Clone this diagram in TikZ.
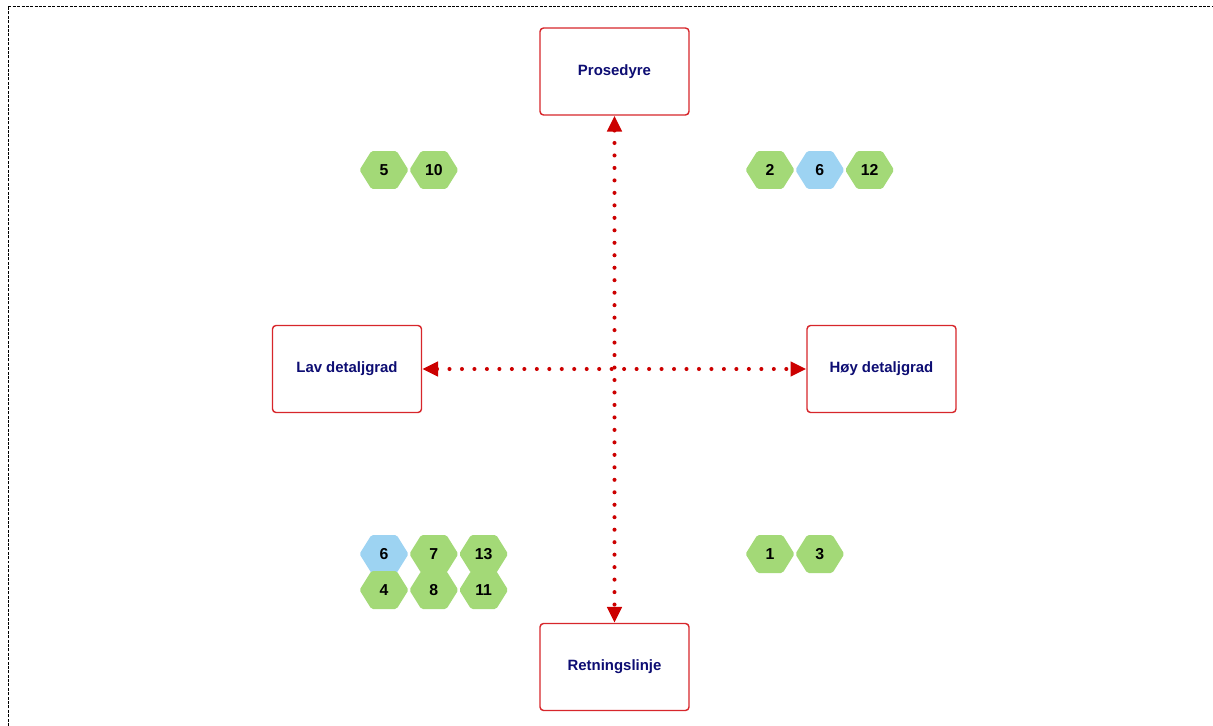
\documentclass[tikz,border=0pt]{standalone}
\usepackage{fontspec}
\setmainfont{Liberation Sans}
\usepackage{xcolor}
\definecolor{FrameRed}{HTML}{D7262B}
\definecolor{LinkRed}{HTML}{CC0000}
\definecolor{LabelNavy}{HTML}{0D0D73}
\definecolor{HexGreen}{HTML}{A3D977}
\definecolor{HexBlue}{HTML}{9DD3F2}
\usetikzlibrary{arrows.meta,positioning,shapes.symbols}

\begin{document}
\begin{tikzpicture}[x=0.02cm,y=-0.02cm,
    box/.style={draw=FrameRed,line width=0.8pt,rounded corners=2pt,fill=white,minimum width=2.98cm,minimum height=1.74cm,font=\fontsize{8.5}{10}\selectfont\bfseries,text=LabelNavy},
    hex/.style={signal,signal to=east and west,signal pointer angle=116,fill=HexGreen,rounded corners=1pt,minimum width=0.98cm,minimum height=0.76cm,inner sep=0pt,font=\fontsize{9}{10}\selectfont\bfseries},
    hexblue/.style={hex,fill=HexBlue},
    link/.style={LinkRed,line width=2.3pt,line cap=round,dash pattern=on 0pt off 7.1pt,{Triangle[length=9pt,width=8pt]}-{Triangle[length=9pt,width=8pt]}}]
    \useasboundingbox (0,0) rectangle (1213,726);
    \draw[line width=0.5pt,dash pattern=on 1.7pt off 0.8pt] (8,726) -- (8,6) -- (1213,6);

    \node[box] (proc) at (614.5,71.5) {Prosedyre};
    \node[box] (low) at (347,369) {Lav detaljgrad};
    \node[box] (high) at (881.5,369) {Høy detaljgrad};
    \node[box] (guide) at (614.5,667) {Retningslinje};
    \draw[link] (proc) -- (guide);
    \draw[link] (low) -- (high);

    % upper left
    \node[hex] (ul5) at (384,170) {5};
    \node[hex,right=0pt of ul5] (ul10) {10};
    % upper right
    \node[hex] (ur2) at (770,170) {2};
    \node[hexblue,right=0pt of ur2] (ur6) {6};
    \node[hex,right=0pt of ur6] (ur12) {12};
    % lower left
    \node[hexblue] (ll6) at (384,554) {6};
    \node[hex,right=0pt of ll6] (ll7) {7};
    \node[hex,right=0pt of ll7] (ll13) {13};
    \node[hex] (ll4) at (384,590) {4};
    \node[hex,right=0pt of ll4] (ll8) {8};
    \node[hex,right=0pt of ll8] (ll11) {11};
    % lower right
    \node[hex] (lr1) at (770,554) {1};
    \node[hex,right=0pt of lr1] (lr3) {3};
  \end{tikzpicture}
\end{document}
